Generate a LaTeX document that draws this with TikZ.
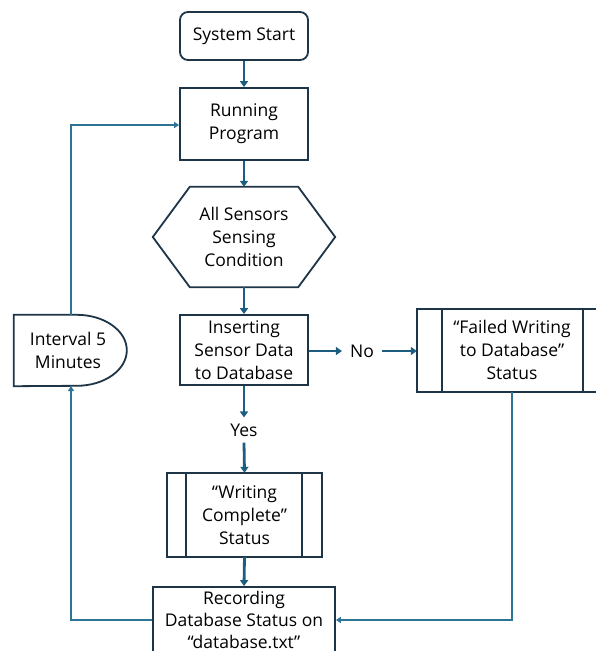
\documentclass[tikz,border=0pt]{standalone}
\usepackage{fontspec}
\setmainfont{Open Sans}
\usetikzlibrary{arrows.meta,calc}
\definecolor{bordc}{HTML}{1E3447}
\definecolor{arrc}{HTML}{1D5E80}
\definecolor{loopc}{HTML}{2C7396}
\tikzset{
  txt/.style={font=\fontsize{17.5}{23}\selectfont, align=center, text=black},
  box/.style={txt, draw=bordc, line width=1.8pt, rectangle, inner sep=0pt},
  ghost/.style={txt, rectangle, inner sep=0pt},
  outline/.style={draw=bordc, line width=1.8pt},
  flow/.style={draw=arrc, line width=2.8pt, -{Triangle[length=6pt,width=8pt]}},
  loopline/.style={draw=loopc, line width=1.7pt, -{Triangle[length=5pt,width=6pt]}},
}
\begin{document}
\begin{tikzpicture}[x=1pt,y=1pt]
\useasboundingbox (0,0) rectangle (595,-651);
% nodes
\node[box, rounded corners=8pt, minimum width=128pt, minimum height=48pt] (start) at (244,-36) {System Start};
\node[box, minimum width=128pt, minimum height=72pt] (run) at (244,-124) {Running\\Program};
\node[ghost, minimum width=182pt, minimum height=100pt] (hex) at (244,-237) {All Sensors\\Sensing\\Condition};
\draw[outline] (hex.west) -- ($(hex.north west)+(37,0)$) -- ($(hex.north east)+(-37,0)$) -- (hex.east) -- ($(hex.south east)+(-37,0)$) -- ($(hex.south west)+(37,0)$) -- cycle;
\node[box, minimum width=128pt, minimum height=70pt] (ins) at (244,-350) {Inserting\\Sensor Data\\to Database};
\node[txt, inner sep=0pt] (no) at (362,-351) {No};
\node[ghost, minimum width=190pt, minimum height=83pt] (fail) at (512,-350.5) {};
\draw[outline] (fail.north west) rectangle (fail.south east);
\draw[outline] ($(fail.north west)+(25,0)$) -- ($(fail.south west)+(25,0)$);
\draw[outline] ($(fail.north east)+(-24,0)$) -- ($(fail.south east)+(-24,0)$);
\node[txt, inner sep=0pt] (failtxt) at (512,-350) {“Failed Writing\\to Database”\\Status};
\node[txt, inner sep=0pt] (yes) at (244,-430) {Yes};
\node[ghost, minimum width=155pt, minimum height=84pt] (wc) at (244.5,-515) {“Writing\\Complete”\\Status};
\draw[outline] (wc.north west) rectangle (wc.south east);
\draw[outline] ($(wc.north west)+(19,0)$) -- ($(wc.south west)+(19,0)$);
\draw[outline] ($(wc.north east)+(-20,0)$) -- ($(wc.south east)+(-20,0)$);
\node[box, minimum width=182pt, minimum height=66pt, font=\fontsize{17.5}{22}\selectfont] (rec) at (244,-620) {Recording\\Database Status on\\“database.txt”};
\node[ghost, minimum width=113pt, minimum height=71pt] (int) at (70.5,-350.5) {};
\draw[outline] (int.north west) -- ++(63,0) arc[start angle=90, end angle=-90, x radius=50pt, y radius=35.5pt] -- (int.south west) -- cycle;
\node[txt, inner sep=0pt] (inttxt) at (68,-350) {Interval 5\\Minutes};
% main flow
\draw[flow] (start.south) -- (run.north);
\draw[flow] (run.south) -- (hex.north);
\draw[flow] (hex.south) -- (ins.north);
\draw[flow] (ins.east |- no) -- ($(no.west)+(-8,0)$);
\draw[flow] ($(no.east)+(8,0)$) -- (fail.west |- no);
\draw[flow] (ins.south) -- ($(yes.north)+(0,6)$);
\draw[flow] ($(yes.south)+(0,-6)$) -- (wc.north);
\draw[flow] (wc.south) -- (rec.north);
% loops
\coordinate (fr) at (512,-620);
\draw[loopline] (fail.south) -- (fr) -- (rec.east |- fr);
\coordinate (rl) at (71,-620);
\draw[loopline] (rec.west |- rl) -- (rl) -- (71,-386);
\coordinate (tl) at (71,-125);
\draw[loopline] (71,-315) -- (tl) -- (run.west |- tl);
\end{tikzpicture}
\end{document}
